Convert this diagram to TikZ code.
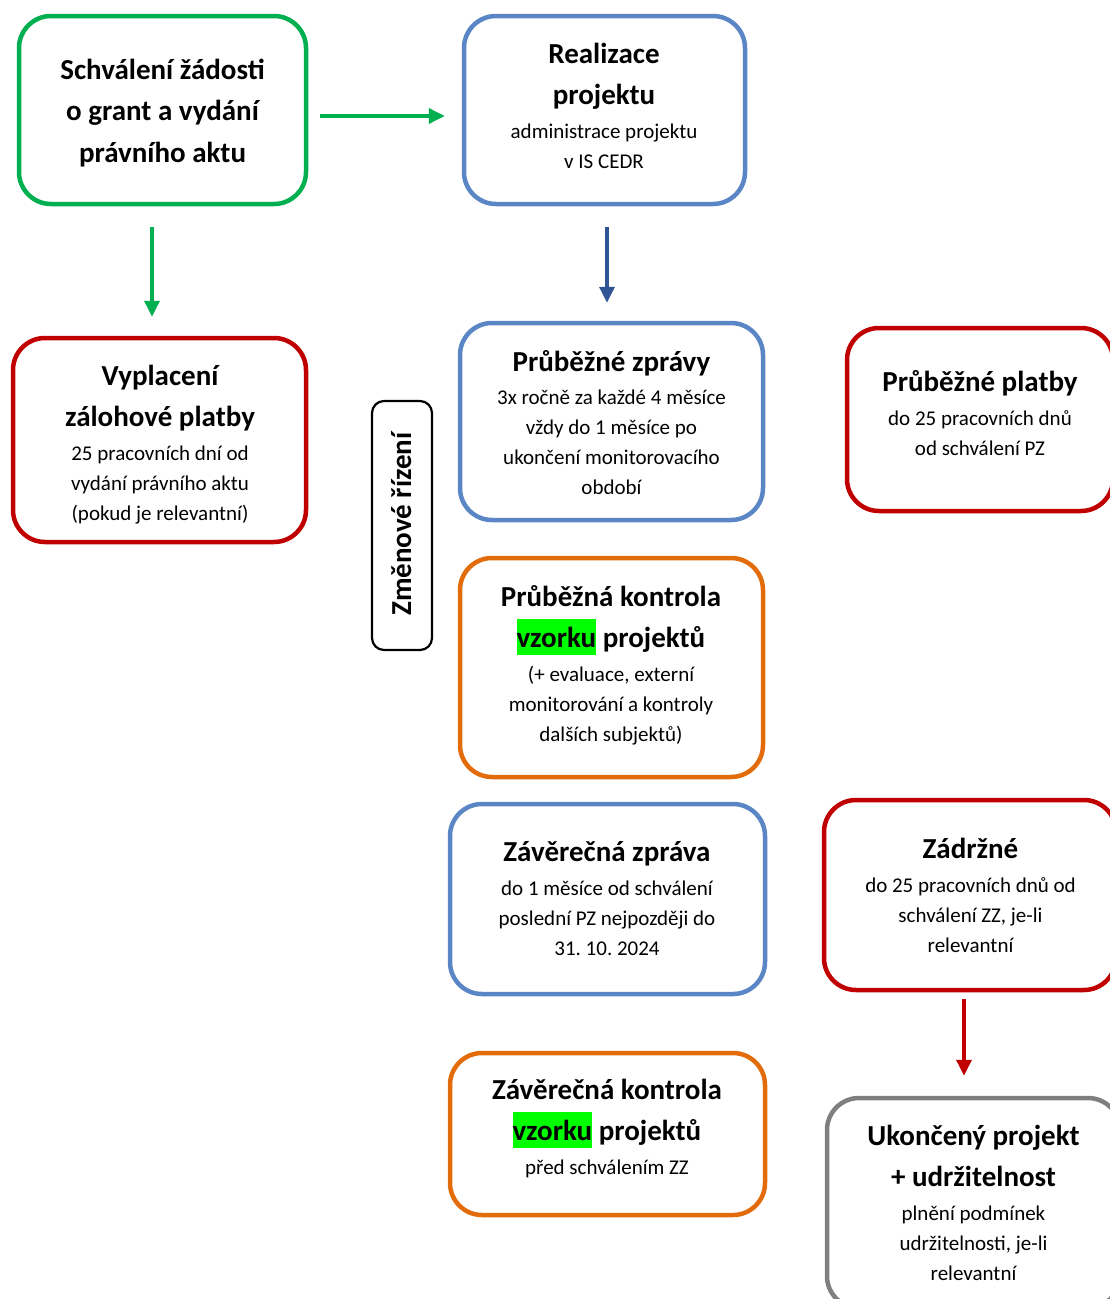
\documentclass[tikz,border=0pt]{standalone}
\usepackage{fontspec}
\setmainfont{Carlito}
\frenchspacing
\usetikzlibrary{arrows.meta}
\definecolor{cgreen}{HTML}{00B050}
\definecolor{cblue}{HTML}{5B86C5}
\definecolor{cdblue}{HTML}{2F5597}
\definecolor{cred}{HTML}{C00000}
\definecolor{corange}{HTML}{E36C0A}
\definecolor{cgray}{HTML}{7F7F7F}
\definecolor{hlg}{HTML}{00FF00}
\newcommand\hlgreen[1]{{\setlength{\fboxsep}{0pt}\colorbox{hlg}{\rule[-8pt]{0pt}{36pt}#1}}}
\begin{document}
\begin{tikzpicture}[x=1pt,y=-1pt,
  box/.style={draw=#1, line width=4.5pt, rounded corners=32pt, inner sep=0pt, fill=none},
  ttl/.style={font=\fontsize{29}{35}\selectfont\bfseries, anchor=base, inner sep=0pt},
  sml/.style={font=\fontsize{21}{25}\selectfont, anchor=base, inner sep=0pt},
  arr/.style={line width=3.5pt, draw=#1, -{Triangle[length=16pt,width=15pt,fill=#1]}}]
\useasboundingbox (0,0) rectangle (1110,1299);

% boxes
\node[box=cgreen, minimum width=287pt, minimum height=188pt] (b1) at (162.5,110) {};
\node[box=cblue, minimum width=281pt, minimum height=188pt] (b2) at (604.5,110) {};
\node[box=cred, minimum width=293pt, minimum height=204pt] (b3) at (159.5,440) {};
\node[draw=black, line width=2.2pt, rounded corners=12pt, inner sep=0pt, minimum width=60pt, minimum height=249pt] (b4) at (402,525.5) {};
\node[box=cblue, minimum width=303pt, minimum height=197pt] (b5) at (611.5,421.5) {};
\node[box=cred, minimum width=266pt, minimum height=183pt] (b6) at (980,419.5) {};
\node[box=corange, minimum width=303pt, minimum height=219pt] (b7) at (611.5,667.5) {};
\node[box=cblue, minimum width=315pt, minimum height=190pt] (b8) at (607.5,899) {};
\node[box=cred, minimum width=292pt, minimum height=190pt] (b9) at (970,895) {};
\node[box=corange, minimum width=315pt, minimum height=162pt] (b10) at (607.5,1134) {};
\node[box=cgray, minimum width=293pt, minimum height=210pt] (b11) at (973.5,1203) {};

% texts
\node[ttl] (t1a) at (162.5,79) {Schválení žádosti};
\node[ttl] (t1b) at (162.5,120) {o grant a vydání};
\node[ttl] (t1c) at (162.5,162) {právního aktu};

\node[ttl] (t2a) at (604,63) {Realizace};
\node[ttl] (t2b) at (604,104) {projektu};
\node[sml] (t2c) at (604,138) {administrace projektu};
\node[sml] (t2d) at (604,168) {v IS CEDR};

\node[ttl] (t3a) at (160,385) {Vyplacení};
\node[ttl] (t3b) at (160,426) {zálohové platby};
\node[sml] (t3c) at (160,460) {25 pracovních dní od};
\node[sml] (t3d) at (160,490) {vydání právního aktu};
\node[sml] (t3e) at (160,520) {(pokud je relevantní)};

\node[ttl, rotate=90] (t4) at (411,524) {Změnové řízení};

\node[ttl] (t5a) at (611.5,371) {Průběžné zprávy};
\node[sml] (t5b) at (611.5,404) {3x ročně za každé 4 měsíce};
\node[sml] (t5c) at (611.5,434) {vždy do 1 měsíce po};
\node[sml] (t5d) at (611.5,464) {ukončení monitorovacího};
\node[sml] (t5e) at (611.5,494) {období};

\node[ttl] (t6a) at (980,391) {Průběžné platby};
\node[sml] (t6b) at (980,425) {do 25 pracovních dnů};
\node[sml] (t6c) at (980,455) {od schválení PZ};

\node[ttl] (t7a) at (611,606) {Průběžná kontrola};
\node[ttl] (t7b) at (611,647) {\hlgreen{vzorku} projektů};
\node[sml] (t7c) at (611,681) {(+ evaluace, externí};
\node[sml] (t7d) at (611,711) {monitorování a kontroly};
\node[sml] (t7e) at (611,741) {dalších subjektů)};

\node[ttl] (t8a) at (607,861) {Závěrečná zpráva};
\node[sml] (t8b) at (607,895) {do 1 měsíce od schválení};
\node[sml] (t8c) at (607,925) {poslední PZ nejpozději do};
\node[sml] (t8d) at (607,955) {31. 10. 2024};

\node[ttl] (t9a) at (970.5,858) {Zádržné};
\node[sml] (t9b) at (970.5,892) {do 25 pracovních dnů od};
\node[sml] (t9c) at (970.5,922) {schválení ZZ, je-li};
\node[sml] (t9d) at (970.5,952) {relevantní};

\node[ttl] (t10a) at (607,1099) {Závěrečná kontrola};
\node[ttl] (t10b) at (607,1140) {\hlgreen{vzorku} projektů};
\node[sml] (t10c) at (607,1174) {před schválením ZZ};

\node[ttl] (t11a) at (973.5,1145) {Ukončený projekt};
\node[ttl] (t11b) at (973.5,1186) {+ udržitelnost};
\node[sml] (t11c) at (973.5,1220) {plnění podmínek};
\node[sml] (t11d) at (973.5,1250) {udržitelnosti, je-li};
\node[sml] (t11e) at (973.5,1280) {relevantní};

% arrows
\draw[arr=cgreen] ([shift={(12,6)}]b1.east) -- ([shift={(-17,6)}]b2.west);
\draw[arr=cgreen] ([shift={(-10.5,21)}]b1.south) -- ([shift={(-7.5,-19)}]b3.north);
\draw[arr=cdblue] ([shift={(2.5,21)}]b2.south) -- ([shift={(-4.5,-18)}]b5.north);
\draw[arr=cred] ([shift={(-6,7)}]b9.south) -- ([shift={(-9.5,-20)}]b11.north);
\end{tikzpicture}
\end{document}
